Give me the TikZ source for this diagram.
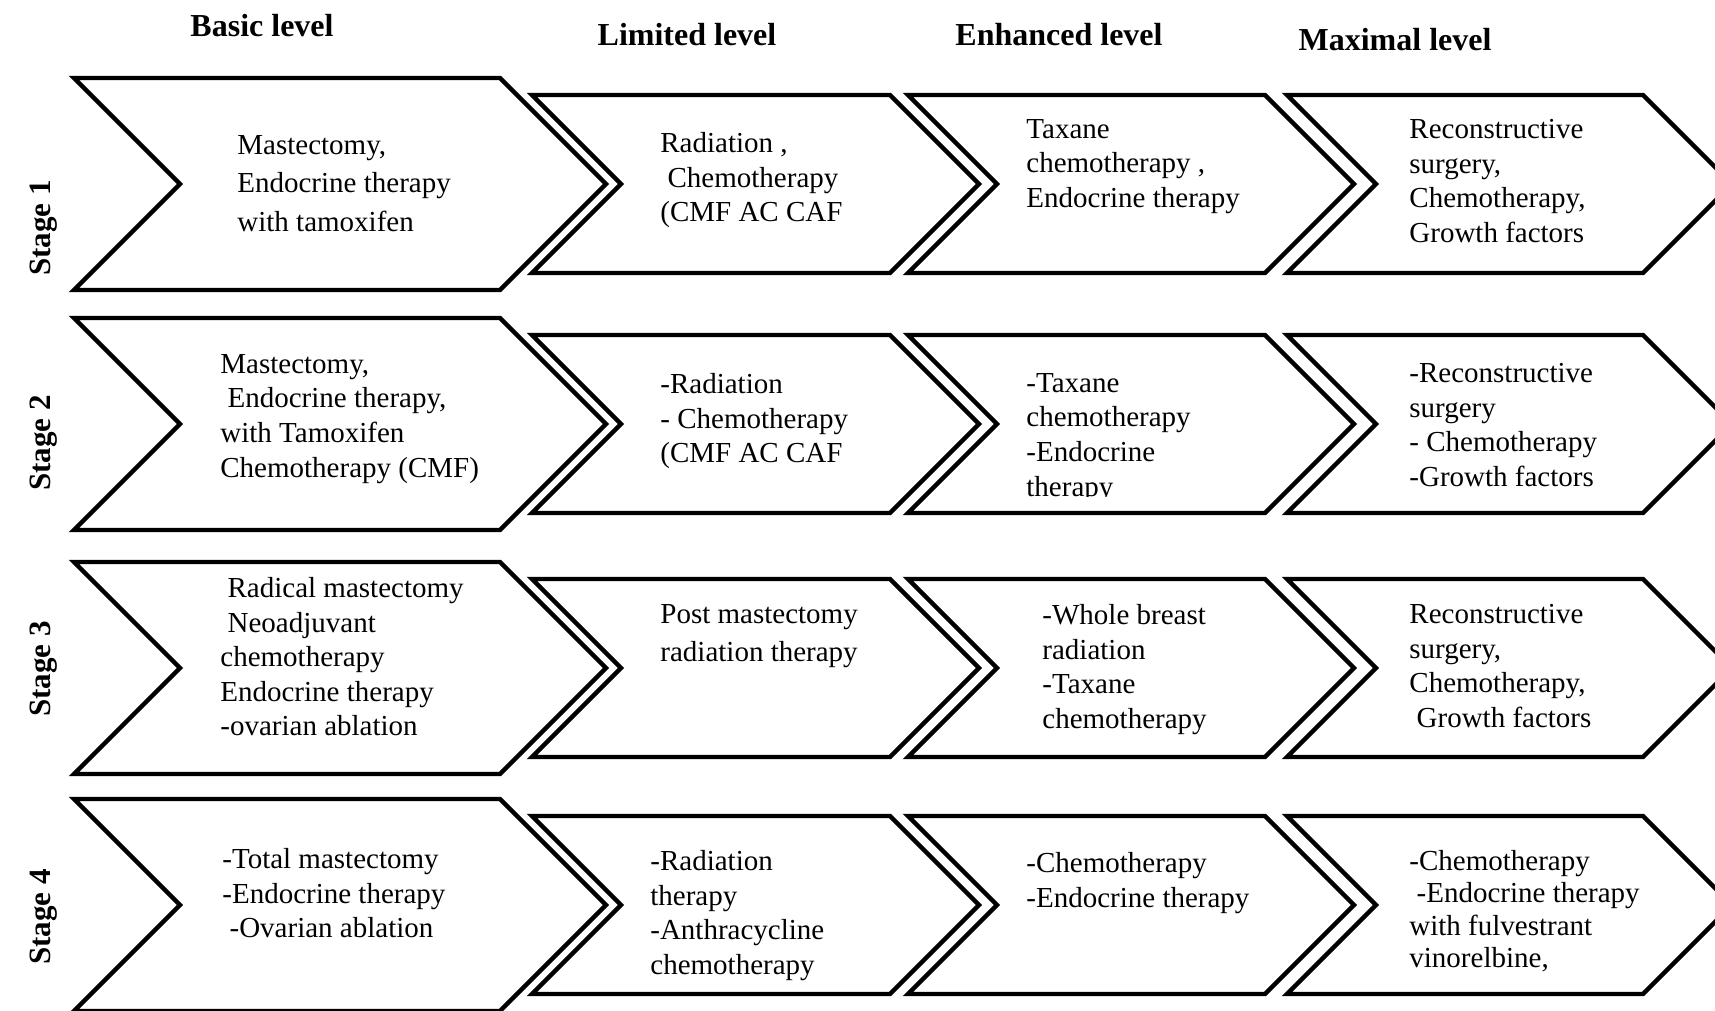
\documentclass[tikz,border=0pt]{standalone}
\usepackage{fontspec}
\setmainfont{Liberation Serif}
\begin{document}
\begin{tikzpicture}[x=0.5pt,y=-0.5pt, line join=miter,
	chev/.style={draw=black, line width=2.2pt, fill=white},
	txt/.style={align=left, anchor=north west, inner sep=0pt, font=\fontsize{14.5}{17.3}\selectfont},
	hd/.style={font=\fontsize{16}{19}\selectfont\bfseries},
	stg/.style={rotate=90, font=\fontsize{15.5}{18}\selectfont\bfseries}]
	\def\hb{106} \def\hs{89} % nửa chiều cao
	\useasboundingbox (0,0) rectangle (1715,1011);
	\clip (0,0) rectangle (1715,1011);
	\foreach \c in {184,424,668,905}{
		\draw[chev] (74,\c-\hb)--(500,\c-\hb)--(500+\hb,\c)--(500,\c+\hb)--(74,\c+\hb)--(74+\hb,\c)--cycle;
		\foreach \l/\r in {532/890,908/1265,1287/1643}
			\draw[chev] (\l,\c-\hs)--(\r,\c-\hs)--(\r+\hs,\c)--(\r,\c+\hs)--(\l,\c+\hs)--(\l+\hs,\c)--cycle;
	}
	\node[hd] (hb) at (262,26) {Basic level};
	\node[hd] (hl) at (687,35) {Limited level};
	\node[hd] (he) at (1059,35) {Enhanced level};
	\node[hd] (hm) at (1395,40) {Maximal level};
	\node[stg] (s1) at (44,228) {Stage 1};
	\node[stg] (s2) at (44,443) {Stage 2};
	\node[stg] (s3) at (44,669) {Stage 3};
	\node[stg] (s4) at (44,917) {Stage 4};
	% Stage 1
	\node[txt, font=\fontsize{14.5}{19.2}\selectfont] (b1) at (237,135) {Mastectomy,\\Endocrine therapy\\with tamoxifen};
	\node[txt] (l1) at (660,132) {Radiation ,\\\ Chemotherapy\\(CMF AC CAF};
	\node[txt] (e1) at (1026,119) {Taxane\\chemotherapy ,\\Endocrine therapy};
	\node[txt] (m1) at (1409,119) {Reconstructive\\surgery,\\Chemotherapy,\\Growth factors};
	% Stage 2
	\node[txt] (b2) at (220,354) {Mastectomy,\\\ Endocrine therapy,\\with Tamoxifen\\Chemotherapy (CMF)};
	\node[txt] (l2) at (660,373) {-Radiation\\- Chemotherapy\\(CMF AC CAF};
	\begin{scope}
		\clip (1000,340) rectangle (1262,496);
		\node[txt] (e2) at (1026,373) {-Taxane\\chemotherapy\\-Endocrine\\therapy};
	\end{scope}
	\node[txt] (m2) at (1409,363) {-Reconstructive\\surgery\\- Chemotherapy\\-Growth factors};
	% Stage 3
	\node[txt] (b3) at (220,577) {\ Radical mastectomy\\\ Neoadjuvant\\chemotherapy\\Endocrine therapy\\-ovarian ablation};
	\node[txt, font=\fontsize{14.5}{19}\selectfont] (l3) at (660,604) {Post mastectomy\\radiation therapy};
	\node[txt] (e3) at (1042,604) {-Whole breast\\radiation\\-Taxane\\chemotherapy};
	\node[txt] (m3) at (1409,604) {Reconstructive\\surgery,\\Chemotherapy,\\\ Growth factors};
	% Stage 4
	\node[txt] (b4) at (222,848) {-Total mastectomy\\-Endocrine therapy\\\ -Ovarian ablation};
	\node[txt] (l4) at (650,850) {-Radiation\\therapy\\-Anthracycline\\chemotherapy};
	\node[txt] (e4) at (1026,852) {-Chemotherapy\\-Endocrine therapy};
	\node[txt, font=\fontsize{14.5}{16.2}\selectfont] (m4) at (1409,850) {-Chemotherapy\\\ -Endocrine therapy\\with fulvestrant\\vinorelbine,};
\end{tikzpicture}
\end{document}
